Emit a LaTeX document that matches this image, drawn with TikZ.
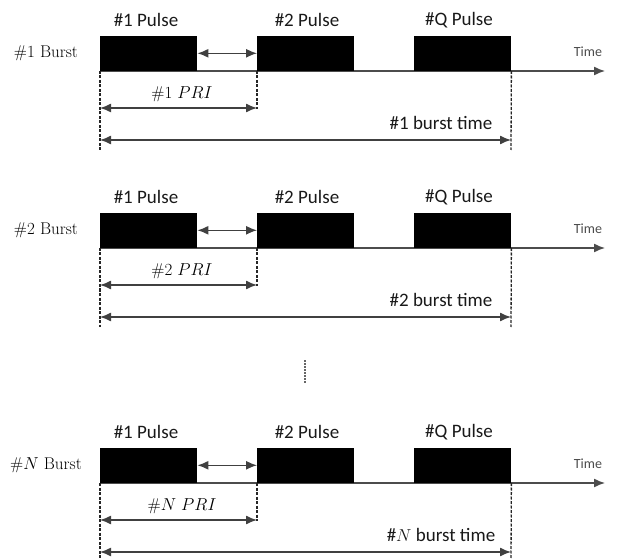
\documentclass[tikz,border=0pt]{standalone}
\usepackage{fontspec}
\newfontfamily\calfont{Carlito}
\usetikzlibrary{arrows.meta}
\begin{document}
\begin{tikzpicture}[x=1pt,y=-1pt,
 pulse/.style={fill=black,draw=none,minimum width=97pt,minimum height=35pt,inner sep=0pt,anchor=south west},
 axis/.style={draw=black!70,line width=1.4pt,-{Latex[length=11pt,width=9pt]}},
 dim/.style={draw=black!75,line width=1.3pt,{Latex[length=11pt,width=9pt]}-{Latex[length=11pt,width=9pt]}},
 guide/.style={draw=black!85,line width=1.3pt,dash pattern=on 3pt off 1.5pt},
 plab/.style={font=\calfont\fontsize{19}{22}\selectfont,text=black!90},
 slab/.style={font=\fontsize{17}{20}\selectfont},
 tlab/.style={font=\calfont\fontsize{14}{16}\selectfont,text=black!70}]
\useasboundingbox (0,0) rectangle (622,559);
\foreach \b/\y/\lab in {1/71/\#1, 2/248/\#2, N/483/\#\(N\)}{
  \coordinate (s\b) at (100,\y);
  \coordinate (e\b) at (605,\y);
  \draw[axis] (s\b) -- (e\b);
  \node[pulse] (pa\b) at (100,\y) {};
  \node[pulse] (pb\b) at (257,\y) {};
  \node[pulse] (pq\b) at (414,\y) {};
  \node[plab] (la\b) at (146,{\y-51}) {\#1 Pulse};
  \node[plab] (lb\b) at (307,{\y-51}) {\#2 Pulse};
  \node[plab] (lq\b) at (459,{\y-51}) {\#Q Pulse};
  \node[slab] (bl\b) at (46,{\y-18}) {\lab\ Burst};
  \node[tlab] (tm\b) at (588,{\y-19}) {Time};
  \draw[dim] (pa\b.east) -- (pb\b.west);
  \coordinate (da\b) at (100,{\y+79});
  \coordinate (db\b) at (257,{\y+38});
  \coordinate (dq\b) at (511,{\y+79});
  \draw[guide] (pa\b.south west) -- (da\b);
  \draw[guide] (pb\b.south west) -- (db\b);
  \draw[guide] (pq\b.south east) -- (dq\b);
  \coordinate (r1\b) at (100,{\y+37});
  \coordinate (r2\b) at (257,{\y+37});
  \draw[dim] (r1\b) -- (r2\b);
  \node[slab] (pri\b) at (182,{\y+23}) {\lab\ \(PRI\)};
  \coordinate (t1\b) at (100,{\y+69});
  \coordinate (t2\b) at (511,{\y+69});
  \draw[dim] (t1\b) -- (t2\b);
  \node[plab] (bt\b) at (441,{\y+52}) {\lab\ burst time};
}
\draw[black!60,line width=1.5pt,dash pattern=on 1.5pt off 1.5pt] (305,360) -- (305,383);
\end{tikzpicture}
\end{document}
